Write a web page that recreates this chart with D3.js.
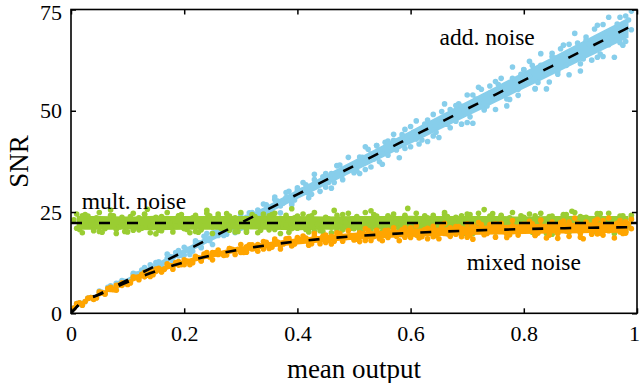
<!DOCTYPE html>
<html>
<head>
<meta charset="utf-8">
<script src="https://cdn.jsdelivr.net/npm/d3@7"></script>
<style>
  body { margin: 0; background: #fff; }
</style>
</head>
<body>
<svg id="chart" width="640" height="383"></svg>
<script>
// ---- data ----
let xTicks = [0, 0.2, 0.4, 0.6, 0.8, 1];
let xTickLabels = ["0", "0.2", "0.4", "0.6", "0.8", "1"];
let yTicks = [0, 25, 50, 75];
let yTickLabels = ["0", "25", "50", "75"];

// sample positions of the scatter clouds
let xsA = [0.01,0.02,0.03,0.04,0.05,0.06,0.07,0.08,0.09,0.10,
  0.11,0.12,0.13,0.14,0.15,0.16,0.17,0.18,0.19,0.20,
  0.21,0.22,0.23,0.24,0.25,0.26,0.27,0.28,0.29,0.30,
  0.31,0.32,0.33,0.34,0.35,0.36,0.37,0.38,0.39,0.40,
  0.41,0.42,0.43,0.44,0.45,0.46,0.47,0.48,0.49,0.50,
  0.51,0.52,0.53,0.54,0.55,0.56,0.57,0.58,0.59,0.60,
  0.61,0.62,0.63,0.64,0.65,0.66,0.67,0.68,0.69,0.70,
  0.71,0.72,0.73,0.74,0.75,0.76,0.77,0.78,0.79,0.80,
  0.81,0.82,0.83,0.84,0.85,0.86,0.87,0.88,0.89,0.90,
  0.91,0.92,0.93,0.94,0.95,0.96,0.97,0.98,0.99];
let xsB = [0.005,0.015,0.025,0.035,0.045,0.055,0.065,0.075,0.085,0.095,
  0.105,0.115,0.125,0.135,0.145,0.155,0.165,0.175,0.185,0.195,
  0.205,0.215,0.225,0.235,0.245,0.255,0.265,0.275,0.285,0.295,
  0.305,0.315,0.325,0.335,0.345,0.355,0.365,0.375,0.385,0.395,
  0.405,0.415,0.425,0.435,0.445,0.455,0.465,0.475,0.485,0.495,
  0.505,0.515,0.525,0.535,0.545,0.555,0.565,0.575,0.585,0.595,
  0.605,0.615,0.625,0.635,0.645,0.655,0.665,0.675,0.685,0.695,
  0.705,0.715,0.725,0.735,0.745,0.755,0.765,0.775,0.785,0.795,
  0.805,0.815,0.825,0.835,0.845,0.855,0.865,0.875,0.885,0.895,
  0.905,0.915,0.925,0.935,0.945,0.955,0.965,0.975,0.985];

// add. noise cloud
let addA = [2.0,2.3,3.7,3.9,5.0,4.8,6.2,7.4,7.2,7.6,
  9.5,9.8,9.9,12.0,11.7,11.7,13.6,13.9,14.2,16.3,
  15.2,17.4,16.2,18.4,19.8,19.2,19.4,22.3,21.8,21.0,
  23.7,23.2,25.5,23.9,25.8,28.1,26.5,28.6,26.8,30.4,
  30.5,29.5,33.0,32.0,31.1,34.5,36.4,34.3,35.9,35.2,
  38.6,35.5,39.3,41.4,39.4,39.0,42.7,42.0,40.7,46.1,
  43.0,45.4,47.7,43.8,47.3,46.7,50.3,47.4,51.1,47.1,
  53.9,51.9,50.5,54.4,57.2,54.0,52.9,58.0,55.3,60.2,
  58.6,55.5,61.2,59.9,63.4,59.7,63.3,66.4,62.6,61.6,
  67.4,66.0,63.2,71.3,66.3,70.1,66.8,73.4,70.0];
let addB = [1.3,2.6,2.9,3.9,3.9,5.2,6.4,6.0,7.4,7.9,
  8.0,9.7,10.7,10.4,10.5,12.7,12.6,14.0,15.0,14.3,
  15.8,15.3,17.4,19.0,17.9,20.0,19.7,19.5,22.1,22.3,
  21.2,24.8,23.5,24.8,26.8,25.1,27.7,27.2,30.1,28.0,
  30.3,31.7,29.4,32.0,33.7,32.3,32.3,36.6,35.1,36.5,
  35.2,38.5,40.5,38.1,37.4,42.2,41.0,40.3,44.1,42.5,
  44.7,41.8,46.7,46.2,44.7,49.8,46.7,49.4,51.7,49.8,
  48.5,52.9,55.3,51.2,53.6,56.5,54.0,52.8,57.6,59.0,
  57.1,61.2,57.0,60.4,57.1,63.0,65.3,61.2,63.5,66.7,
  62.8,66.5,70.2,64.0,69.0,68.0,71.4,66.2,72.4];
let addC = [2.4,2.0,3.7,3.5,5.5,5.0,6.8,5.9,8.1,7.4,
  9.9,8.9,11.3,9.9,12.5,11.5,14.6,12.7,15.5,14.4,
  14.5,17.9,16.3,19.7,17.0,21.0,19.2,22.2,19.9,24.4,
  21.5,24.9,22.4,27.0,24.3,28.7,24.8,29.8,27.3,31.0,
  32.3,28.5,34.3,30.1,34.5,30.9,36.5,33.0,38.5,34.7,
  34.5,41.1,36.1,41.4,36.8,42.5,44.2,38.4,45.4,41.1,
  47.5,42.8,42.4,49.1,43.4,51.7,45.8,51.3,46.7,53.9,
  46.9,55.8,50.2,56.1,50.3,58.0,51.2,60.8,53.8,60.1,
  62.2,55.4,64.1,55.4,64.2,59.0,66.2,58.9,69.1,59.8,
  68.2,62.5,71.1,63.4,73.1,63.2,73.1,67.1,74.6];

// mult. noise cloud
let multA = [21.0,24.1,22.0,23.3,20.2,22.8,25.5,20.7,23.1,22.3,
  20.5,23.6,24.4,21.5,19.6,23.9,21.8,23.3,24.1,21.0,
  22.6,20.2,23.1,25.4,21.3,23.9,22.0,20.5,23.6,22.8,
  20.0,24.4,21.5,22.3,24.1,20.7,23.3,21.8,25.8,21.0,
  23.1,23.9,20.2,22.6,23.6,21.3,20.5,24.4,22.0,22.8,
  20.7,23.3,25.3,21.5,20.2,24.1,22.3,21.0,23.9,21.8,
  23.1,20.0,23.6,22.6,20.7,24.4,21.3,22.8,24.1,22.0,
  20.5,23.3,25.6,21.0,22.3,23.9,21.5,20.2,23.1,23.6,
  21.8,24.1,20.7,22.6,19.5,23.3,24.4,21.3,22.3,23.9,
  21.0,22.8,24.6,20.5,23.1,22.0,23.6,20.2,23.3];
let multB = [23.1,20.7,24.4,21.8,23.6,20.0,22.6,24.1,21.3,20.2,
  23.9,22.8,21.0,25.7,22.0,20.5,23.3,22.3,21.5,24.4,
  20.7,23.6,20.0,22.8,24.1,21.8,21.0,24.6,22.6,20.2,
  23.3,21.5,23.9,20.5,22.3,24.4,21.3,23.1,20.0,23.6,
  22.8,20.7,24.1,22.0,20.2,23.3,25.4,21.5,22.6,21.0,
  23.9,20.0,23.1,24.4,21.8,20.7,23.6,22.3,20.5,25.9,
  21.3,22.8,24.1,20.2,22.6,21.5,23.9,21.0,23.3,19.7,
  24.4,22.3,20.7,23.1,24.6,21.8,20.5,23.6,21.3,24.1,
  22.6,20.0,23.3,22.0,23.9,21.0,22.8,24.4,25.2,20.5,
  23.6,22.3,20.2,24.6,21.3,23.1,20.7,24.1,21.8];
let multC = [24.5,19.9,24.0,20.4,24.9,20.9,24.2,19.7,23.7,20.1,
  24.7,20.6,24.5,19.9,23.7,20.4,24.9,20.1,24.0,20.9,
  19.9,24.2,20.6,24.7,19.7,24.5,20.9,24.0,20.1,24.9,
  20.4,23.7,19.9,24.5,20.6,24.7,19.7,24.2,20.9,24.0,
  24.5,20.1,24.9,20.4,23.7,19.9,24.2,20.6,24.7,20.9,
  20.1,24.9,20.4,24.0,19.9,23.7,24.5,19.7,24.2,20.6,
  24.7,20.9,20.1,24.2,19.9,24.9,20.6,23.7,20.4,24.5,
  19.7,24.7,20.9,24.0,20.1,24.2,19.9,24.9,20.6,23.7,
  24.5,20.4,24.7,19.7,24.0,20.9,24.2,20.1,24.9,19.9,
  23.7,20.6,24.5,20.4,24.7,19.7,24.0,20.9,24.2];

// mixed noise cloud
let mixA = [2.1,2.3,3.7,3.8,4.9,4.7,5.9,6.9,6.9,7.2,
  8.7,9.0,9.0,10.5,10.3,10.3,11.6,11.7,11.9,13.2,
  12.5,13.7,12.9,14.2,15.0,14.5,14.5,16.0,15.6,15.0,
  16.4,15.9,17.0,15.9,16.9,17.9,16.8,17.7,16.6,18.3,
  18.1,17.3,19.0,18.2,17.5,19.0,19.8,18.4,19.0,18.4,
  19.9,18.0,19.7,20.4,19.2,18.7,20.3,19.7,18.8,21.1,
  19.3,20.2,21.0,18.9,20.3,19.7,21.1,19.5,21.0,18.8,
  21.7,20.5,19.6,21.1,22.1,20.3,19.5,21.6,20.1,22.0,
  21.0,19.3,21.6,20.7,22.0,18.5,21.4,22.5,20.5,19.8,
  22.0,21.1,19.6,22.9,20.4,21.8,20.1,22.6,20.9];
let mixB = [1.3,2.6,2.9,3.9,3.8,5.1,6.1,5.8,7.0,7.4,
  7.5,8.9,9.6,9.4,9.5,11.1,10.9,11.8,12.5,12.0,
  12.9,12.5,13.7,14.6,13.9,15.0,14.7,14.4,15.8,15.8,
  15.0,16.9,16.0,16.6,17.5,16.3,17.6,17.1,18.5,17.1,
  18.2,18.6,17.2,18.4,19.0,18.0,17.8,19.7,18.7,19.2,
  18.3,19.7,20.4,18.9,18.4,20.4,19.6,19.0,20.6,19.5,
  20.3,18.6,20.7,20.2,19.2,21.4,19.6,20.6,21.4,20.2,
  19.3,21.1,21.9,19.7,20.6,21.6,20.2,19.4,21.2,21.6,
  20.5,22.1,19.8,21.1,19.3,21.7,22.4,20.3,21.0,22.2,
  18.4,21.5,22.8,19.8,21.8,21.0,22.2,19.7,22.1];
let mixC = [2.4,2.0,3.7,3.4,5.3,4.9,6.4,5.7,7.5,7.1,
  9.0,8.3,10.1,9.1,10.9,10.2,12.2,10.9,12.8,12.0,
  12.0,14.1,13.0,15.0,13.2,15.6,14.3,16.0,14.5,17.0,
  15.1,16.9,15.3,17.7,16.0,18.3,15.9,18.4,16.8,18.7,
  19.1,16.8,19.7,17.2,19.3,17.1,19.8,17.8,20.4,18.1,
  17.7,20.9,18.0,20.5,17.9,20.5,21.1,17.9,21.1,18.7,
  21.6,18.9,18.4,21.5,18.4,22.2,19.0,21.4,18.9,22.1,
  18.3,22.4,19.4,21.9,18.8,22.2,18.7,22.9,19.3,22.0,
  22.7,19.2,23.0,18.6,22.5,19.7,22.8,19.0,23.5,18.8,
  22.5,19.5,23.2,19.3,23.5,18.6,22.9,19.8,23.2];

// dense core of each cloud (lower / upper edge)
let bandX = [0.01,0.05,0.10,0.15,0.20,0.25,0.30,0.35,0.40,0.45,0.50,
  0.55,0.60,0.65,0.70,0.75,0.80,0.85,0.90,0.95,0.985];
let addLo = [1.66,4.38,7.79,11.19,14.60,18.0,21.41,24.81,28.22,31.62,35.02,
  38.43,41.83,45.24,48.64,52.05,55.45,58.86,62.26,65.67,68.04];
let addHi = [2.14,5.06,8.69,12.33,15.96,19.6,23.23,26.87,30.50,34.14,37.78,
  41.41,45.05,48.68,52.32,55.95,59.59,63.22,66.86,70.49,73.04];
let multLo = [20.6,20.6,20.7,20.5,20.6,20.6,20.7,20.6,20.5,20.6,20.6,
  20.7,20.6,20.6,20.5,20.6,20.7,20.6,20.6,20.6,20.6];
let multHi = [24.0,24.0,23.9,24.1,24.0,24.0,24.0,24.1,24.0,23.9,24.0,
  24.0,24.1,24.0,24.0,24.0,23.9,24.0,24.1,24.0,24.0];
let mixLo = [1.54,4.22,7.27,9.89,12.04,13.76,15.11,16.16,16.99,17.63,18.13,
  18.54,18.86,19.11,19.31,19.47,19.60,19.71,19.78,19.84,19.88];
let mixHi = [2.26,5.02,8.19,10.91,13.16,14.98,16.45,17.60,18.53,19.27,19.89,
  20.40,20.82,21.17,21.49,21.75,21.98,22.19,22.38,22.54,22.64];

// dashed fit curves
let lineX = [0,0.015,0.05,0.10,0.15,0.20,0.25,0.30,0.35,0.40,0.45,0.50,
  0.55,0.60,0.65,0.70,0.75,0.80,0.85,0.90,0.95,1.0];
let addLine = [0,2.26,4.72,8.24,11.76,15.28,18.8,22.32,25.84,29.36,32.88,36.4,
  39.92,43.44,46.96,50.48,54.0,57.52,61.04,64.56,68.08,71.6];
let mixLine = [0,2.25,4.62,7.73,10.40,12.60,14.37,15.78,16.88,17.76,18.45,19.01,
  19.47,19.84,20.14,20.40,20.61,20.79,20.95,21.08,21.19,21.29];
let multX = [0, 1];
let multLine = [22.3, 22.3];

let labels = [
  {text: "add. noise", x: 0.651, y: 66.2},
  {text: "mult. noise", x: 0.019, y: 25.8},
  {text: "mixed noise", x: 0.699, y: 10.8}
];

const FONT = "'Liberation Serif', 'Times New Roman', serif";

// ---- drawing ----
let svg = d3.select("#chart").attr("font-family", FONT);
let x = d3.scaleLinear().domain([0, 1]).range([71, 637]);
let y = d3.scaleLinear().domain([0, 75]).range([313.3, 9.5]);

svg.append("clipPath").attr("id", "plot")
  .append("rect")
  .attr("x", x(0)).attr("y", y(75))
  .attr("width", x(1) - x(0)).attr("height", y(0) - y(75));

let g = svg.append("g").attr("clip-path", "url(#plot)");

let series = [
  {color: "#87ceeb", pts: [[xsA, addA], [xsB, addB], [xsA, addC]], lo: addLo, hi: addHi},
  {color: "#9acd32", pts: [[xsA, multA], [xsB, multB], [xsA, multC]], lo: multLo, hi: multHi},
  {color: "#ffa500", pts: [[xsA, mixA], [xsB, mixB], [xsA, mixC]], lo: mixLo, hi: mixHi}
];

let area = d3.area()
  .x((d, i) => x(bandX[i]))
  .y0(d => y(d[0]))
  .y1(d => y(d[1]))
  .curve(d3.curveMonotoneX);

series.forEach(s => {
  g.append("path")
    .datum(s.lo.map((v, i) => [v, s.hi[i]]))
    .attr("fill", s.color)
    .attr("d", area);

  let pts = [];
  s.pts.forEach(p => p[0].forEach((v, i) => pts.push([v, p[1][i]])));
  g.append("g")
    .selectAll("circle")
    .data(pts)
    .enter().append("circle")
    .attr("cx", d => x(d[0]))
    .attr("cy", d => y(d[1]))
    .attr("r", 2.8)
    .attr("fill", s.color);
});

let line = d3.line()
  .x(d => x(d[0]))
  .y(d => y(d[1]))
  .curve(d3.curveMonotoneX);

[[lineX, addLine], [multX, multLine], [lineX, mixLine]].forEach(l => {
  g.append("path")
    .datum(l[0].map((v, i) => [v, l[1][i]]))
    .attr("fill", "none")
    .attr("stroke", "#000")
    .attr("stroke-width", 2.6)
    .attr("stroke-dasharray", "11,17")
    .attr("d", line);
});

svg.append("g")
  .selectAll("text")
  .data(labels)
  .enter().append("text")
  .attr("x", d => x(d.x))
  .attr("y", d => y(d.y))
  .attr("font-size", 23.5)
  .attr("fill", "#000")
  .text(d => d.text);

// frame and axes
svg.append("rect")
  .attr("x", x(0)).attr("y", y(75))
  .attr("width", x(1) - x(0)).attr("height", y(0) - y(75))
  .attr("fill", "none")
  .attr("stroke", "#000")
  .attr("stroke-width", 1.6);

function styleAxis(sel) {
  sel.select(".domain").remove();
  sel.selectAll(".tick line").attr("stroke", "#000").attr("stroke-width", 1.5);
  sel.attr("font-family", FONT).attr("font-size", 22);
  sel.selectAll("text").attr("fill", "#000");
}

svg.append("g")
  .attr("transform", "translate(0," + y(0) + ")")
  .call(d3.axisBottom(x).tickValues(xTicks).tickSize(-5).tickPadding(12)
    .tickFormat((d, i) => xTickLabels[i]))
  .call(styleAxis)
  .selectAll("text")
  .attr("dx", d => d === 1 ? -3 : 0);

svg.append("g")
  .attr("transform", "translate(0," + y(75) + ")")
  .call(d3.axisTop(x).tickValues(xTicks).tickSize(-5).tickFormat(""))
  .call(styleAxis);

svg.append("g")
  .attr("transform", "translate(" + x(0) + ",0)")
  .call(d3.axisLeft(y).tickValues(yTicks).tickSize(-5).tickPadding(9)
    .tickFormat((d, i) => yTickLabels[i]))
  .call(styleAxis)
  .selectAll("text")
  .attr("dy", d => d === 75 ? "0.45em" : "0.32em");

svg.append("g")
  .attr("transform", "translate(" + x(1) + ",0)")
  .call(d3.axisRight(y).tickValues(yTicks).tickSize(-5).tickFormat(""))
  .call(styleAxis);

svg.append("text")
  .attr("x", (x(0) + x(1)) / 2)
  .attr("y", 378)
  .attr("text-anchor", "middle")
  .attr("font-size", 27)
  .attr("fill", "#000")
  .text("mean output");

svg.append("text")
  .attr("transform", "translate(28," + y(37.5) + ") rotate(-90)")
  .attr("text-anchor", "middle")
  .attr("font-size", 27)
  .attr("fill", "#000")
  .text("SNR");
</script>
</body>
</html>
